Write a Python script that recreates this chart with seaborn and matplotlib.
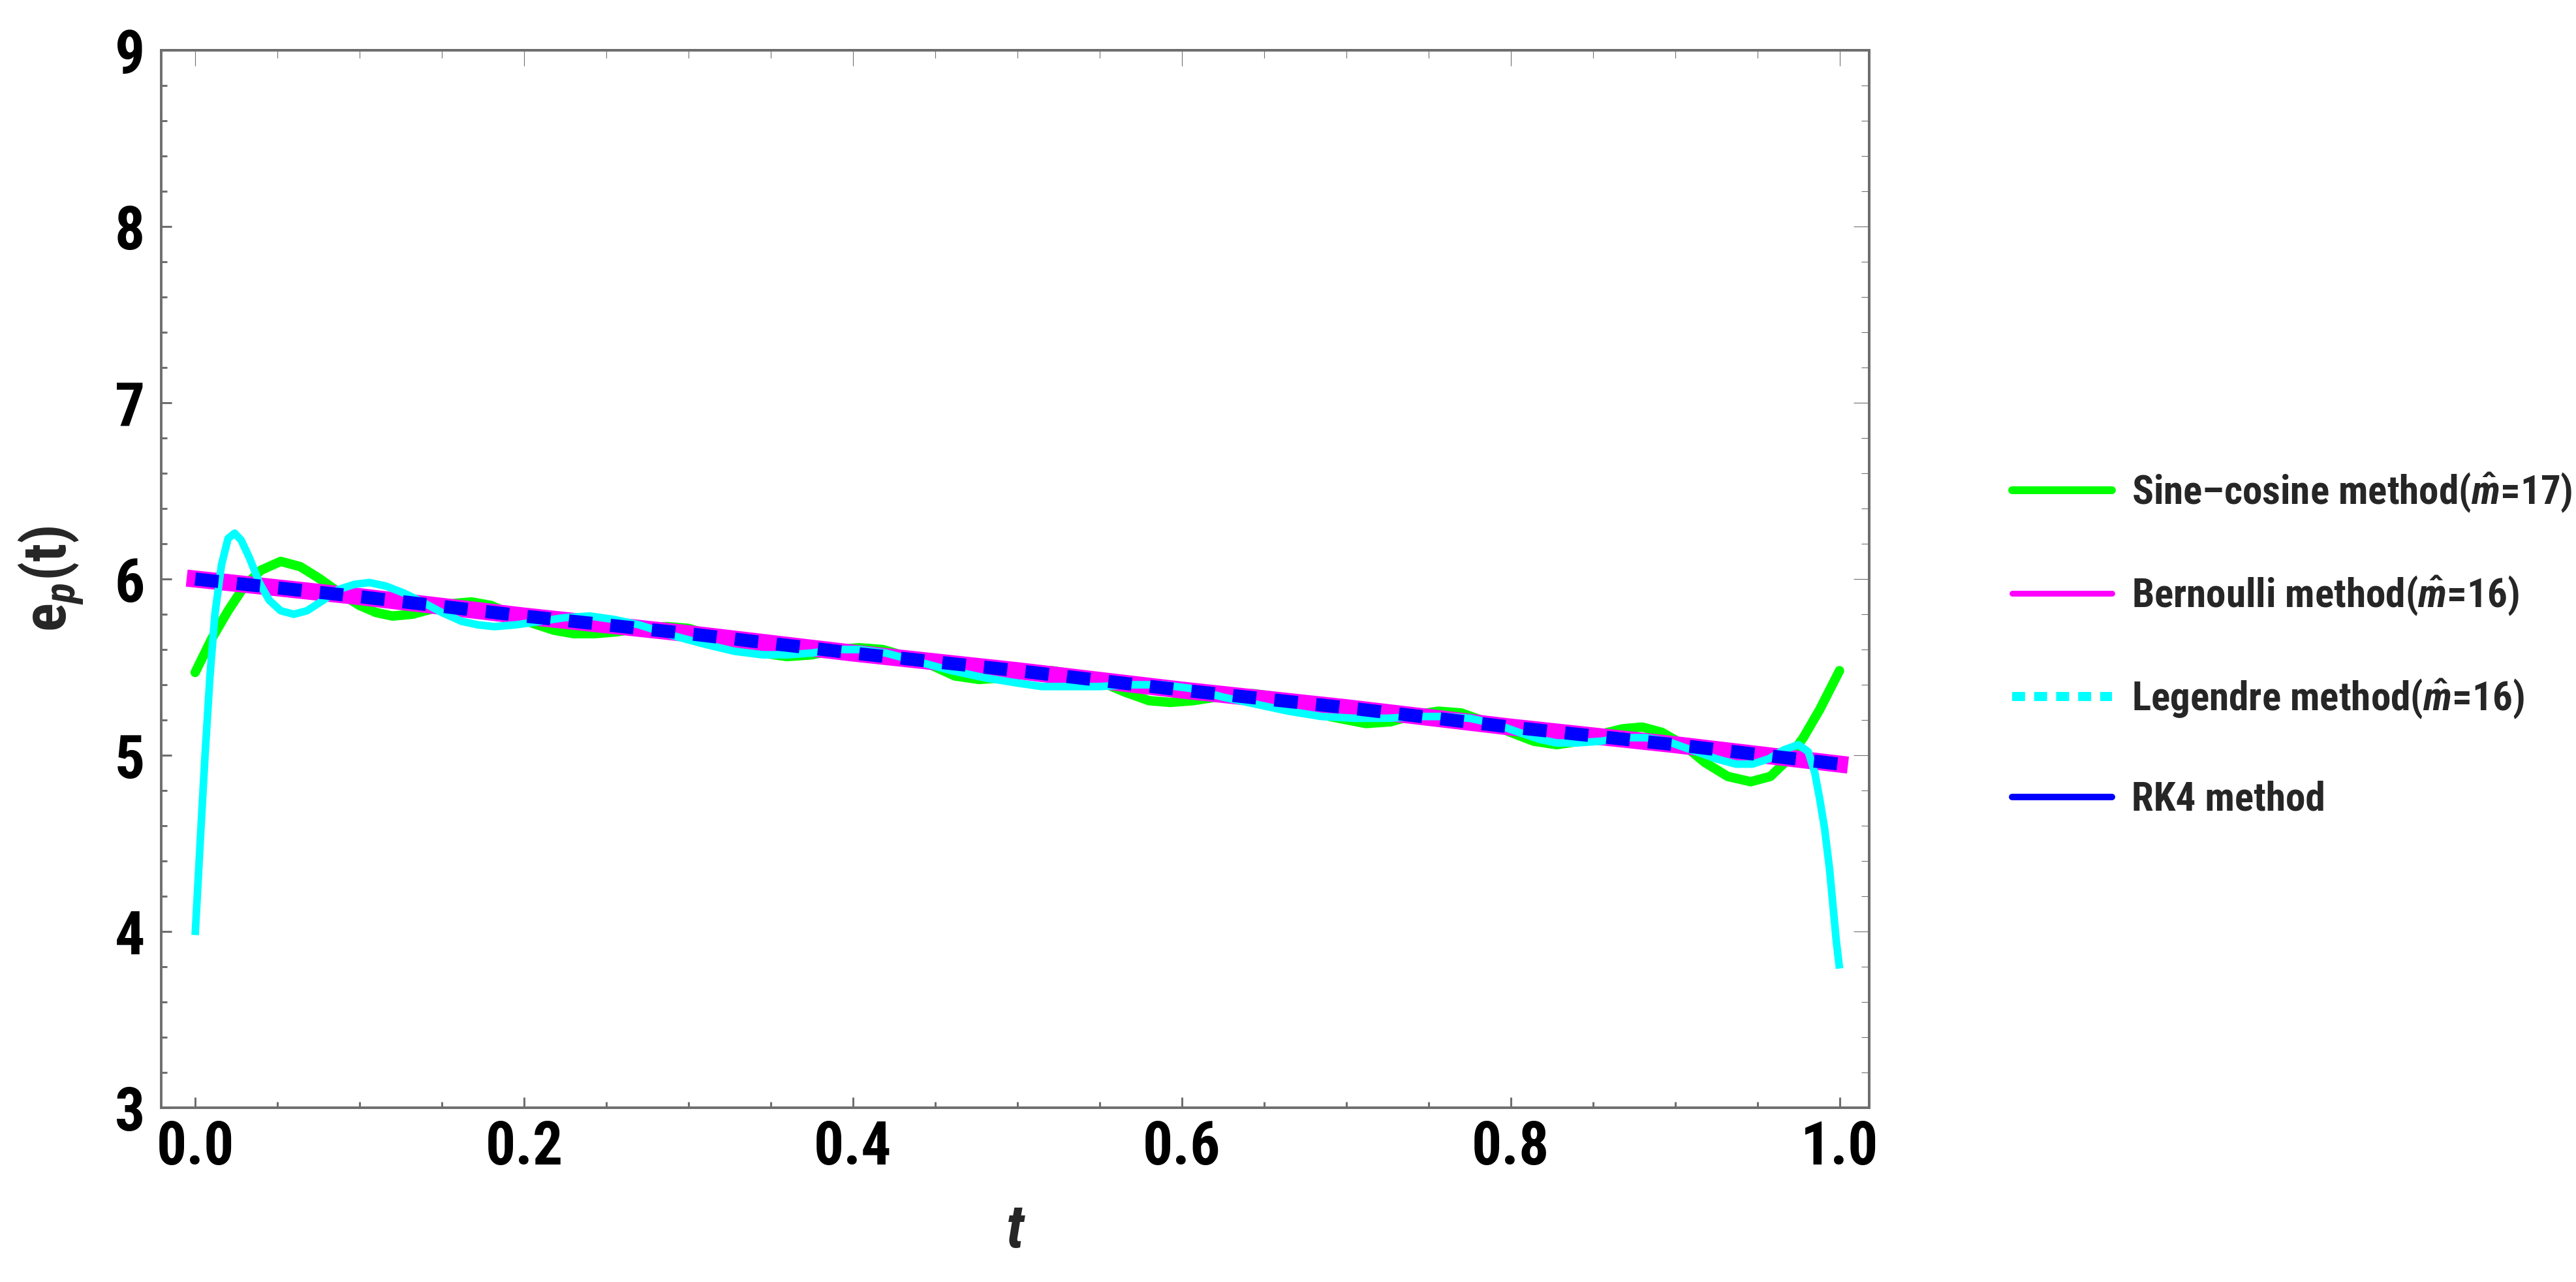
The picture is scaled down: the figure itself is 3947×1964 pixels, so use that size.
import matplotlib
matplotlib.use("Agg")
import matplotlib.pyplot as plt
from matplotlib import font_manager
from matplotlib.lines import Line2D
from matplotlib.ticker import FixedLocator, MultipleLocator
import seaborn as sns

# Sine-cosine method (m=17)
t_sine = [0.000, 0.010, 0.020, 0.030, 0.040, 0.052, 0.064, 0.076, 0.088, 0.100,
          0.110, 0.120, 0.132, 0.144, 0.156, 0.168, 0.180, 0.192, 0.205, 0.218,
          0.230, 0.243, 0.256, 0.270, 0.287, 0.300, 0.315, 0.330, 0.345, 0.360,
          0.375, 0.390, 0.404, 0.418, 0.433, 0.448, 0.462, 0.477, 0.492, 0.507,
          0.521, 0.535, 0.550, 0.565, 0.580, 0.593, 0.607, 0.621, 0.643, 0.660,
          0.675, 0.690, 0.712, 0.727, 0.742, 0.756, 0.770, 0.785, 0.800, 0.814,
          0.828, 0.842, 0.855, 0.868, 0.880, 0.892, 0.905, 0.918, 0.932, 0.946,
          0.958, 0.968, 0.978, 0.988, 1.000]
e_sine = [5.47, 5.66, 5.82, 5.96, 6.05, 6.10, 6.07, 6.00, 5.92, 5.85,
          5.81, 5.79, 5.80, 5.83, 5.86, 5.87, 5.85, 5.80, 5.75, 5.71,
          5.69, 5.69, 5.70, 5.72, 5.73, 5.72, 5.68, 5.63, 5.58, 5.56,
          5.57, 5.60, 5.61, 5.60, 5.56, 5.51, 5.45, 5.43, 5.44, 5.47,
          5.48, 5.46, 5.42, 5.36, 5.31, 5.30, 5.31, 5.33, 5.35, 5.33,
          5.28, 5.22, 5.18, 5.19, 5.23, 5.25, 5.24, 5.19, 5.13, 5.08,
          5.06, 5.08, 5.12, 5.15, 5.16, 5.13, 5.06, 4.96, 4.88, 4.85,
          4.88, 4.97, 5.10, 5.26, 5.48]

# Legendre method (m=16)
t_leg = [0.000, 0.003, 0.006, 0.009, 0.012, 0.016, 0.020, 0.024, 0.028, 0.033,
         0.039, 0.045, 0.052, 0.060, 0.068, 0.078, 0.087, 0.097, 0.106, 0.116,
         0.127, 0.138, 0.150, 0.162, 0.172, 0.182, 0.195, 0.210, 0.224, 0.240,
         0.255, 0.270, 0.290, 0.310, 0.328, 0.345, 0.360, 0.375, 0.390, 0.404,
         0.420, 0.440, 0.460, 0.480, 0.500, 0.515, 0.532, 0.550, 0.570, 0.588,
         0.605, 0.625, 0.645, 0.665, 0.685, 0.705, 0.725, 0.745, 0.760, 0.775,
         0.790, 0.805, 0.818, 0.828, 0.840, 0.855, 0.870, 0.882, 0.895, 0.910,
         0.925, 0.937, 0.947, 0.957, 0.966, 0.975, 0.981, 0.985, 0.988, 0.991,
         0.994, 0.996, 0.998, 1.000]
e_leg = [3.98, 4.50, 5.00, 5.45, 5.80, 6.08, 6.23, 6.26, 6.22, 6.12,
         5.98, 5.88, 5.82, 5.80, 5.82, 5.88, 5.94, 5.97, 5.98, 5.96,
         5.92, 5.87, 5.81, 5.76, 5.74, 5.73, 5.74, 5.76, 5.78, 5.79,
         5.77, 5.74, 5.68, 5.63, 5.59, 5.57, 5.57, 5.58, 5.60, 5.60,
         5.58, 5.53, 5.48, 5.44, 5.41, 5.39, 5.39, 5.39, 5.40, 5.40,
         5.38, 5.33, 5.29, 5.25, 5.22, 5.21, 5.21, 5.22, 5.22, 5.21,
         5.18, 5.13, 5.09, 5.07, 5.07, 5.08, 5.10, 5.10, 5.08, 5.03,
         4.98, 4.95, 4.95, 4.98, 5.03, 5.06, 5.02, 4.90, 4.75, 4.58,
         4.35, 4.15, 3.95, 3.79]

# Bernoulli method (m=16) and RK4 method
t_exact = [0.0, 0.1, 0.2, 0.3, 0.4, 0.5, 0.6, 0.7, 0.8, 0.9, 1.0]
e_bern = [6.00, 5.90, 5.79, 5.69, 5.58, 5.48, 5.37, 5.27, 5.16, 5.06, 4.95]
e_rk4 = [6.00, 5.90, 5.79, 5.69, 5.58, 5.48, 5.37, 5.27, 5.16, 5.06, 4.95]

x_ticks = [0.0, 0.2, 0.4, 0.6, 0.8, 1.0]
x_tick_labels = ["0.0", "0.2", "0.4", "0.6", "0.8", "1.0"]
y_ticks = [3, 4, 5, 6, 7, 8, 9]
y_tick_labels = ["3", "4", "5", "6", "7", "8", "9"]

legend_labels = [
    r"Sine–cosine method($\hat{m}$=17)",
    r"Bernoulli method($\hat{m}$=16)",
    r"Legendre method($\hat{m}$=16)",
    "RK4 method",
]

GREEN, MAGENTA, CYAN, BLUE = "#00ff00", "#ff00ff", "#00ffff", "#0000ff"
GRAY = "#6e6e6e"

sns.set_theme(style="ticks")

# the original uses a squeezed Arial-like face; take a narrow one if installed
names = {f.name for f in font_manager.fontManager.ttflist}
FONT, narrow = "Liberation Sans", False
for cand in ["Liberation Sans Narrow", "Arial Narrow", "Roboto Condensed",
             "Open Sans Condensed", "Noto Sans Condensed", "DejaVu Sans Condensed"]:
    if cand in names:
        FONT, narrow = cand, True
        break

plt.rcParams["font.family"] = [FONT, "DejaVu Sans"]
plt.rcParams["mathtext.fontset"] = "custom"
plt.rcParams["mathtext.rm"] = FONT + ":bold"
plt.rcParams["mathtext.bf"] = FONT + ":bold"
plt.rcParams["mathtext.it"] = FONT + ":italic:bold"

tick_size = 33 if narrow else 29
leg_size = 22 if narrow else 18

fig = plt.figure(figsize=(19.74, 9.82), dpi=200)
ax = fig.add_axes([0.0626, 0.1359, 0.6628, 0.8249])

sns.lineplot(x=t_sine, y=e_sine, ax=ax, color=GREEN, linewidth=5.2,
             estimator=None, sort=False)
sns.lineplot(x=t_exact, y=e_bern, ax=ax, color=MAGENTA, linewidth=9.4,
             estimator=None, sort=False, solid_capstyle="projecting")
sns.lineplot(x=t_leg, y=e_leg, ax=ax, color=CYAN, linewidth=4.2,
             estimator=None, sort=False, solid_capstyle="butt")
sns.lineplot(x=t_exact, y=e_rk4, ax=ax, color=BLUE, linewidth=7.2,
             estimator=None, sort=False, linestyle=(0, (1.8, 1.4)),
             dash_capstyle="butt")

ax.set_xlim(-0.0206, 1.018)
ax.set_ylim(3, 9)

ax.xaxis.set_major_locator(FixedLocator(x_ticks))
ax.set_xticklabels(x_tick_labels)
ax.yaxis.set_major_locator(FixedLocator(y_ticks))
ax.set_yticklabels(y_tick_labels)
ax.xaxis.set_minor_locator(MultipleLocator(0.05))
ax.yaxis.set_minor_locator(MultipleLocator(0.2))

for s in ax.spines.values():
    s.set_visible(True)
    s.set_color(GRAY)
    s.set_linewidth(1.4)

ax.tick_params(which="both", direction="in", colors=GRAY, top=False, right=False)
ax.tick_params(which="major", length=5.8, width=1.1)
ax.tick_params(which="minor", length=3.2, width=1.1)
ax.tick_params(axis="x", which="major", pad=6, labelsize=tick_size, labelcolor="black")
ax.tick_params(axis="y", which="major", pad=9, labelsize=tick_size, labelcolor="black")
for lab in ax.get_xticklabels() + ax.get_yticklabels():
    lab.set_fontweight("bold")

# thin ticks on the top and right frame
top = ax.secondary_xaxis("top")
top.xaxis.set_major_locator(FixedLocator(x_ticks))
top.xaxis.set_minor_locator(MultipleLocator(0.05))
top.tick_params(which="both", direction="in", colors=GRAY, labeltop=False, width=0.4)
top.tick_params(which="major", length=8.6)
top.tick_params(which="minor", length=4.3)
top.spines["top"].set_color(GRAY)
top.spines["top"].set_linewidth(1.4)

right = ax.secondary_yaxis("right")
right.yaxis.set_major_locator(FixedLocator(y_ticks))
right.yaxis.set_minor_locator(MultipleLocator(0.2))
right.tick_params(which="both", direction="in", colors=GRAY, labelright=False, width=0.4)
right.tick_params(which="major", length=8.6)
right.tick_params(which="minor", length=4.3)
right.spines["right"].set_color(GRAY)
right.spines["right"].set_linewidth(1.4)

ax.set_xlabel("t", fontsize=33, fontstyle="italic", fontweight="bold", labelpad=14)
ax.set_ylabel(r"$\mathbf{e}_{\mathit{p}}\mathbf{(t)}$", fontsize=33, labelpad=16)

handles = [
    Line2D([], [], color=GREEN, linewidth=4.3),
    Line2D([], [], color=MAGENTA, linewidth=3.2),
    Line2D([], [], color=CYAN, linewidth=5.0, linestyle=(0, (1.43, 1.0)),
           dash_capstyle="butt"),
    Line2D([], [], color=BLUE, linewidth=3.6),
]
leg = fig.legend(handles, legend_labels, loc="center left",
                 bbox_to_anchor=(0.781, 0.497), frameon=False,
                 borderpad=0, borderaxespad=0,
                 handlelength=2.49 * 22 / leg_size,
                 handletextpad=0.5 * 22 / leg_size,
                 labelspacing=1.5 * 22 / leg_size,
                 prop={"family": FONT, "weight": "bold", "size": leg_size})

fig.savefig("out.png", dpi=200)
